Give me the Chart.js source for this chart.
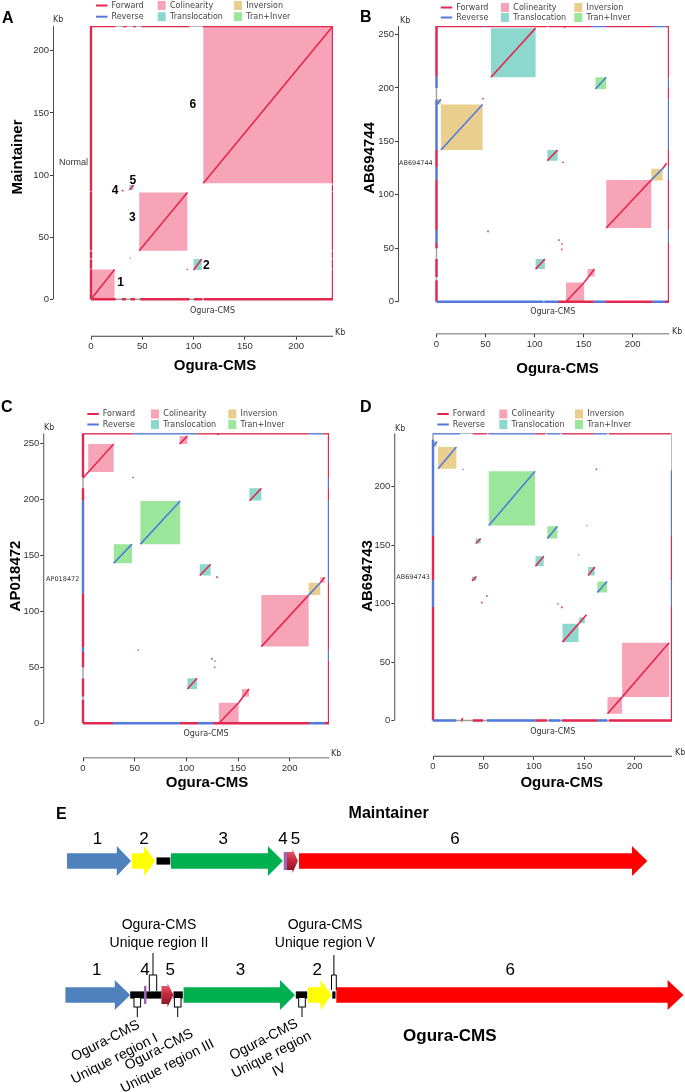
<!DOCTYPE html>
<html>
<head>
<meta charset="utf-8">
<title>Ogura-CMS dot plots</title>
<script src="https://cdn.jsdelivr.net/npm/chart.js@4.4.1/dist/chart.umd.min.js"></script>
<style>
  html, body { margin:0; padding:0; background:#ffffff; }
  #page { position:relative; width:685px; height:1092px; overflow:hidden; background:#fff; }
  #page canvas { position:absolute; left:0; top:0; }
</style>
</head>
<body>
<div id="page">
  <canvas id="chartA" width="685" height="1092"></canvas>
  <canvas id="chartB" width="685" height="1092"></canvas>
  <canvas id="chartC" width="685" height="1092"></canvas>
  <canvas id="chartD" width="685" height="1092"></canvas>
  <canvas id="chartE" width="685" height="1092"></canvas>
</div>
<script>
// ================= DATA =================
const X_TICKS   = [0, 50, 100, 150, 200];
const A_Y_TICKS = [0, 50, 100, 150, 200];
const B_Y_TICKS = [0, 50, 100, 150, 200, 250];
const C_Y_TICKS = [0, 50, 100, 150, 200, 250];
const D_Y_TICKS = [0, 50, 100, 150, 200];

// genome lengths (Kb): [Ogura-CMS, other]
const A_LEN = [236, 220];
const B_LEN = [237, 258];
const C_LEN = [238, 259];
const D_LEN = [237, 245.5];

// blocks: [x0, x1, y0, y1, type]  col=Colinearity tra=Translocation inv=Inversion ti=Tran+Inver
const A_BLOCKS = [
  [0, 23, 0, 24, 'col'], [47, 94, 39, 86, 'col'], [109.5, 236, 93.5, 220, 'col'],
  [100, 108, 23.5, 32.5, 'tra'], [37.5, 41.5, 88, 92, 'tra']
];
const B_BLOCKS = [
  [55.5, 101, 210, 256, 'tra'], [4.5, 47, 142, 184.5, 'inv'], [0.5, 4.5, 184.5, 189.5, 'inv'],
  [162, 173, 199, 210, 'ti'], [113, 123.5, 132, 142, 'tra'], [219, 230.5, 113.5, 124.5, 'inv'],
  [173, 219, 69, 114, 'col'], [132, 150.5, 0, 18, 'col'], [154, 161, 23.5, 30.5, 'col'],
  [101, 110.5, 30.5, 40, 'tra']
];
const C_BLOCKS = [
  [5, 29.7, 224.5, 249.5, 'col'], [93.5, 101, 249.5, 256.5, 'col'], [161, 172.5, 199, 210, 'tra'],
  [55.5, 94, 160, 198.5, 'ti'], [29.7, 47.4, 143, 160, 'ti'], [113, 123.5, 132, 142, 'tra'],
  [218.3, 229.6, 114.5, 125.5, 'inv'], [172.5, 218.3, 68.5, 114.5, 'col'], [229.6, 233.7, 125.5, 130.5, 'col'],
  [101, 110.3, 30.6, 40.2, 'tra'], [131.5, 150.6, 0, 18.4, 'col'], [153.8, 160.6, 23.8, 30.6, 'col']
];
const D_BLOCKS = [
  [0, 4, 234, 238.5, 'inv'], [5, 23.2, 215.2, 233.7, 'inv'], [55.3, 101.2, 166.6, 213, 'ti'],
  [113.4, 123.4, 155.6, 166, 'ti'], [42.4, 47.3, 151.3, 155.6, 'tra'], [101.6, 109.8, 131.8, 140.4, 'tra'],
  [153.8, 160.4, 124, 131.2, 'tra'], [38.7, 43, 119.4, 123.1, 'tra'], [163, 172.6, 109.4, 118.8, 'ti'],
  [128.4, 144.3, 67, 82.6, 'tra'], [145, 150.5, 83.2, 88.3, 'tra'], [187.5, 234.1, 20, 66.4, 'col'],
  [173, 187.5, 5.8, 20, 'col']
];

// alignment hits: [x0, y0, x1, y1, dir]  F=Forward R=Reverse
const A_HITS = [
  [0, 0, 23, 24, 'F'], [47, 39, 94, 86, 'F'], [109.5, 93.5, 236, 220, 'F'], [100, 23.5, 108, 32.5, 'F'],
  [37.5, 88, 41.5, 92, 'F'], [30.5, 87, 31.5, 88, 'F'], [93.6, 23.8, 94.2, 24.5, 'F'], [38, 32.8, 38.5, 33.3, 'F']
];
const B_HITS = [
  [55.5, 210, 101, 256, 'F'], [4.5, 142, 47, 184.5, 'R'], [0.5, 184.5, 4.5, 189.5, 'R'], [47, 189.5, 48, 190.5, 'F'],
  [162, 199, 173, 210, 'R'], [113, 132, 123.5, 142, 'F'], [128.5, 130, 129.5, 131, 'F'],
  [173, 69, 219, 114, 'F'], [219, 114, 230.5, 124.5, 'R'], [230.5, 124.5, 234.5, 129.5, 'F'],
  [132, 0, 150.5, 18, 'F'], [150.5, 18, 161, 30.5, 'F'], [101, 30.5, 110.5, 40, 'F'],
  [52, 65, 53, 66.5, 'R'], [124, 57.5, 124.8, 58.5, 'R'], [127.5, 53.5, 128.3, 54.5, 'F'],
  [127, 49, 127.5, 49.6, 'F'], [130, 256.5, 131, 257.5, 'F']
];
const C_HITS = [
  [0, 219, 29.7, 249.4, 'F'], [93.5, 249.5, 101, 256.5, 'F'], [48, 219, 48.8, 220, 'R'],
  [161.2, 198.8, 172.5, 209.8, 'F'], [55.5, 160, 94, 198.5, 'R'], [29.7, 143, 47.4, 160, 'R'],
  [113, 132, 123.5, 142, 'F'], [129, 130.5, 129.6, 131.4, 'F'], [218.3, 114.5, 229.6, 125.5, 'R'],
  [172.5, 68.5, 218.3, 114.5, 'F'], [229.6, 125.5, 233.7, 130.5, 'F'], [101, 30.6, 110.3, 40.2, 'F'],
  [131.5, 0, 150.6, 18.4, 'F'], [150.6, 18.4, 160.6, 30.6, 'F'], [53, 65, 53.8, 66, 'R'],
  [124, 57.5, 124.8, 58.5, 'R'], [127.4, 55.2, 128, 56, 'F'], [127, 50, 127.4, 50.5, 'F'],
  [130, 257.5, 131, 258.5, 'F']
];
const D_HITS = [
  [0, 234, 4, 238.5, 'R'], [5, 215.2, 23.2, 233.7, 'R'], [29.5, 214.3, 30.2, 215, 'R'],
  [55.3, 166.6, 101.2, 213, 'R'], [161.6, 214.3, 162.4, 215.3, 'F'], [152.6, 166.2, 153.2, 166.8, 'R'],
  [113.4, 155.6, 123.4, 166, 'R'], [42.4, 151.3, 47.3, 155.6, 'F'], [101.6, 131.8, 109.8, 140.4, 'F'],
  [144.3, 141.3, 144.8, 141.8, 'R'], [153.8, 124, 160.4, 131.2, 'F'], [38.7, 119.4, 43, 123.1, 'F'],
  [163, 109.4, 172.6, 118.8, 'R'], [52.6, 106.4, 53.4, 107.3, 'R'], [47.8, 100.7, 48.4, 101.5, 'F'],
  [123.7, 99.3, 124.4, 100.2, 'R'], [127.1, 96.7, 127.8, 97.5, 'F'], [128.4, 67, 152.2, 90.4, 'F'],
  [187.5, 20, 234.1, 66.4, 'F'], [173, 5.8, 187.5, 20, 'F'], [28.5, 0, 29.5, 2, 'F']
];

// coverage marks on the frame: [from, to, dir]
const A_EDGES = {
  top:    [[0, 24, 'F'], [31, 35, 'F'], [41, 44, 'F'], [49, 96, 'F'], [109, 236, 'F']],
  bottom: [[0, 24, 'F'], [30, 34, 'F'], [38.5, 43, 'F'], [48, 96, 'F'], [100.5, 108.5, 'F'], [110, 236, 'F']],
  left:   [[0, 24, 'F'], [24.5, 32, 'F'], [33, 38.5, 'F'], [39.5, 86.5, 'F'], [87, 220, 'F']],
  right:  [[0, 24, 'F'], [24.5, 32, 'F'], [33, 38.5, 'F'], [39.5, 86.5, 'F'], [87, 92, 'F'], [93.5, 220, 'F']]
};
const B_EDGES = {
  top:    [[0, 47.7, 'F'], [47.7, 50.5, 'R'], [50.5, 112.5, 'F'], [114, 157.5, 'F'], [157.5, 172.8, 'R'], [172.8, 219.8, 'F'], [219.8, 233.4, 'R'], [233.4, 237, 'F']],
  bottom: [[0, 109, 'R'], [110, 124, 'R'], [124, 160, 'F'], [160, 172, 'R'], [172, 220, 'F'], [220, 233, 'R'], [233, 237, 'F']],
  left:   [[211, 258, 'F'], [200, 211, 'R'], [142, 189, 'R'], [126, 142, 'F'], [114, 126, 'R'], [67, 114, 'F'], [55, 67, 'R'], [50, 55, 'F'], [23, 40, 'F'], [0, 20, 'F']],
  right:  [[210, 258, 'F'], [200, 210, 'R'], [189, 200, 'F'], [142, 189, 'R'], [127, 142, 'F'], [114, 127, 'R'], [67, 114, 'F'], [55, 67, 'R'], [0, 55, 'F']]
};
const C_EDGES = {
  top:    [[0, 48, 'F'], [48, 110, 'R'], [110, 218, 'F'], [218, 232, 'R'], [232, 238, 'F']],
  bottom: [[0, 29, 'F'], [29, 93.5, 'R'], [93.5, 111, 'F'], [111, 125.7, 'R'], [125.7, 219, 'F'], [219, 233.7, 'R'], [233.7, 238, 'F']],
  left:   [[220, 259, 'F'], [199, 210, 'F'], [116, 199, 'R'], [68, 116, 'F'], [64, 68, 'R'], [50, 64, 'F'], [24, 40, 'F'], [0, 21, 'F']],
  right:  [[219, 259, 'F'], [210, 219, 'R'], [199, 210, 'F'], [126, 199, 'R'], [66, 126, 'F'], [56, 66, 'R'], [0, 56, 'F']]
};
const D_EDGES = {
  top:    [[0, 26.8, 'R'], [39.5, 53.5, 'F'], [55, 101.5, 'R'], [101.5, 111.4, 'F'], [113, 126.4, 'R'], [128, 159.5, 'F'], [159.5, 172.8, 'R'], [174.5, 235.7, 'F']],
  bottom: [[0, 23, 'R'], [28, 29, 'F'], [39.5, 49.5, 'F'], [53.5, 101.5, 'R'], [101.5, 113, 'F'], [114.7, 126.4, 'R'], [128, 163, 'F'], [163, 172.8, 'R'], [174.5, 237, 'F']],
  left:   [[158, 240, 'R'], [120, 158, 'F'], [97, 120, 'R'], [0, 97, 'F']],
  right:  [[158, 214, 'R'], [120, 158, 'F'], [97, 120, 'R'], [0, 97, 'F']]
};

// block numbers in panel A: [label, x(Kb), y(Kb)]
const A_NUMBERS = [['1', 28.8, 13.1], ['2', 112.4, 27.2], ['3', 40.2, 65.4], ['4', 23.4, 87.2], ['5', 40.7, 95.6], ['6', 99.2, 156.6]];

const LEGEND_LINES = [['Forward', 'F'], ['Reverse', 'R']];
const LEGEND_BOXES = [['Colinearity', 'col'], ['Translocation', 'tra'], ['Inversion', 'inv'], ['Tran+Inver', 'ti']];

// Panel E schematic (arbitrary units along the genome map)
// [start, end, headStart (null = plain block), colour key]
const E_MAINT = [
  [7, 71, 56.8, 'blue'], [71.8, 95.3, 84, 'yellow'], [96.5, 110.3, null, 'black'],
  [111, 222.9, 207.9, 'green'], [223.7, 227, null, 'purple'], [227, 237.9, 232.5, 'maroon'],
  [239, 587.4, 572, 'red']
];
const E_OGURA = [
  [5.4, 70.2, 54.8, 'blue'], [70.2, 84, null, 'black'], [84, 86.4, null, 'purple'],
  [86.4, 101.4, null, 'black'], [101.4, 113.5, 107.5, 'maroon'], [113.5, 122.8, null, 'black'],
  [123.6, 235, 220, 'green'], [235.8, 247.2, null, 'black'], [248, 271.5, 260.5, 'yellow'],
  [272.3, 275.5, null, 'black'], [276.3, 623.5, 607.6, 'red']
];
const E_ROW_Y = [61, 195];
const E_MAINT_LABELS = [['1', 37.4], ['2', 84], ['3', 163.3], ['4', 222.9], ['5', 235.4], ['6', 395]];
const E_OGURA_LABELS = [['1', 36.8], ['4', 85], ['5', 110.2], ['3', 180.5], ['2', 257.2], ['6', 450.2]];
const E_UNIQUE_BELOW = [77.3, 117.7, 242];   // unique regions I, III, IV
const E_UNIQUE_ABOVE = [93, 273.9];          // unique regions II, V

// ================= STYLE =================
const FILL = { col: '#F8A4B8', tra: '#8CD8CE', inv: '#EACE8E', ti: '#9BE69A' };
const STROKE = { F: '#E3284F', R: '#5279DD' };
const E_COLORS = { blue: '#4F81BD', yellow: '#FFFF00', black: '#000000', green: '#00B050', purple: '#8E4AA6', red: '#FF0000' };
const SANS = '"Liberation Sans", Arial, sans-serif';
const DJV = '"DejaVu Sans", sans-serif';

function txt(ctx, s, x, y, font, color, align, base, rot) {
  ctx.save();
  ctx.font = font; ctx.fillStyle = color || '#000';
  ctx.textAlign = align || 'center'; ctx.textBaseline = base || 'middle';
  ctx.translate(x, y);
  if (rot) ctx.rotate(rot);
  ctx.fillText(s, 0, 0);
  ctx.restore();
}

function panelPlugin(P) {
  return {
    id: 'panelText' + P.id,
    afterDraw(chart) {
      const ctx = chart.ctx, xs = chart.scales.x, ys = chart.scales.y, T = P.text;
      // panel letter
      txt(ctx, T.letter[0], T.letter[1], T.letter[2], 'bold 16px ' + SANS, '#000', 'left', 'alphabetic');
      // legend
      const L = T.legend;
      LEGEND_LINES.forEach(([lab, d], i) => {
        const yy = i ? L.y2 : L.y1;
        ctx.save(); ctx.strokeStyle = STROKE[d]; ctx.lineWidth = 2;
        ctx.beginPath(); ctx.moveTo(L.x1, yy); ctx.lineTo(L.x1 + 11.5, yy); ctx.stroke(); ctx.restore();
        txt(ctx, lab, L.x1 + 15.5, yy, '8px ' + DJV, '#444', 'left');
      });
      LEGEND_BOXES.forEach(([lab, t], i) => {
        const xx = i < 2 ? L.x2 : L.x3, yy = i % 2 ? L.y2 : L.y1;
        ctx.fillStyle = FILL[t]; ctx.fillRect(xx, yy - 4.5, 8, 9);
        txt(ctx, lab, xx + 12.3, yy, '8px ' + DJV, '#444', 'left');
      });
      // Kb labels
      txt(ctx, 'Kb', T.kbY[0], T.kbY[1], '8px ' + DJV, '#333', 'left');
      txt(ctx, 'Kb', T.kbX[0], T.kbX[1], '8px ' + DJV, '#333', 'left');
      // axis titles
      txt(ctx, T.yTitle[0], T.yTitle[1], T.yTitle[2], 'bold 15px ' + SANS, '#000', 'center', 'middle', -Math.PI / 2);
      txt(ctx, 'Ogura-CMS', T.xTitle[0], T.xTitle[1], 'bold 15px ' + SANS, '#000');
      txt(ctx, 'Ogura-CMS', T.small[0], T.small[1], '8px ' + DJV, '#333');
      txt(ctx, T.yName[0], T.yName[1], T.yName[2], T.yName[3] + 'px ' + (T.yName[4] || DJV), '#333', 'right');
      // numbers
      (P.numbers || []).forEach(([s, xv, yv]) => {
        txt(ctx, s, xs.getPixelForValue(xv), ys.getPixelForValue(yv), 'bold 12px ' + SANS, '#000');
      });
    }
  };
}

function buildPanel(canvasId, P) {
  const L = P.layout, len = P.len;
  const pxX = (L.boxR - L.boxL) / len[0];
  const pxY = (L.boxB - L.boxT) / len[1];
  const xMin = -(L.boxL - L.axisX) / pxX;
  const yMin = -(L.axisY - L.boxB) / pxY;
  const ds = [];
  const base = { pointRadius: 0, pointHoverRadius: 0, tension: 0, spanGaps: true };
  // axis lines
  ds.push(Object.assign({ data: [{ x: xMin, y: 0 }, { x: xMin, y: len[1] }], borderColor: '#3a3a3a', borderWidth: 1.8, fill: false, order: 0 }, base));
  ds.push(Object.assign({ data: [{ x: 0, y: yMin }, { x: len[0], y: yMin }], borderColor: '#3a3a3a', borderWidth: 1.8, fill: false, order: 0 }, base));
  // hits
  P.hits.forEach(([x0, y0, x1, y1, d]) => ds.push(Object.assign({
    data: [{ x: x0, y: y0 }, { x: x1, y: y1 }], borderColor: STROKE[d], borderWidth: 1.6, fill: false, order: 1
  }, base)));
  // edges
  const E = P.edges;
  E.top.forEach(([a, b, d]) => ds.push(Object.assign({ data: [{ x: a, y: len[1] }, { x: b, y: len[1] }], borderColor: STROKE[d], borderWidth: 2.4, fill: false, order: 2 }, base)));
  E.bottom.forEach(([a, b, d]) => ds.push(Object.assign({ data: [{ x: a, y: 0 }, { x: b, y: 0 }], borderColor: STROKE[d], borderWidth: 2.4, fill: false, order: 2 }, base)));
  E.left.forEach(([a, b, d]) => ds.push(Object.assign({ data: [{ x: 0, y: a }, { x: 0, y: b }], borderColor: STROKE[d], borderWidth: 2.4, fill: false, order: 2 }, base)));
  E.right.forEach(([a, b, d]) => ds.push(Object.assign({ data: [{ x: len[0], y: a }, { x: len[0], y: b }], borderColor: STROKE[d], borderWidth: 2.4, fill: false, order: 2 }, base)));
  // grey frame
  ds.push(Object.assign({ data: [{ x: 0, y: 0 }, { x: len[0], y: 0 }, { x: len[0], y: len[1] }, { x: 0, y: len[1] }, { x: 0, y: 0 }], borderColor: '#a0a0a0', borderWidth: 1.4, fill: false, order: 3 }, base));
  // blocks
  P.blocks.forEach(([x0, x1, y0, y1, t]) => ds.push(Object.assign({
    data: [{ x: x0, y: y0 }, { x: x1, y: y0 }, { x: x1, y: y1 }, { x: x0, y: y1 }, { x: x0, y: y0 }],
    backgroundColor: FILL[t], borderColor: 'rgba(255,255,255,0)', borderWidth: 0, fill: 'shape', order: 4
  }, base)));

  const tickCommon = {
    grid: { display: true, drawOnChartArea: false, drawTicks: true, tickLength: 3, color: '#3a3a3a', lineWidth: 1 },
    border: { display: false },
    ticks: { font: { family: SANS, size: 9.5 }, color: '#333', padding: 1, maxRotation: 0, autoSkip: false, callback: v => String(v) }
  };
  return new Chart(document.getElementById(canvasId), {
    type: 'line',
    data: { datasets: ds },
    options: {
      responsive: false, animation: false, events: [],
      layout: { padding: { left: L.axisX - 40, right: 685 - L.boxR, top: L.boxT, bottom: 1092 - L.axisY - 22 } },
      plugins: { legend: { display: false }, tooltip: { enabled: false } },
      scales: {
        x: Object.assign({ type: 'linear', min: xMin, max: len[0],
          afterBuildTicks: s => { s.ticks = X_TICKS.map(v => ({ value: v })); },
          afterFit: s => { s.height = 22; } }, JSON.parse(JSON.stringify(tickCommon)), { ticks: Object.assign({}, tickCommon.ticks) }),
        y: Object.assign({ type: 'linear', min: yMin, max: len[1],
          afterBuildTicks: s => { s.ticks = P.yTicks.map(v => ({ value: v })); },
          afterFit: s => { s.width = 40; } }, JSON.parse(JSON.stringify(tickCommon)), { ticks: Object.assign({}, tickCommon.ticks) })
      }
    },
    plugins: [panelPlugin(P)]
  });
}

buildPanel('chartA', {
  id: 'A', len: A_LEN, yTicks: A_Y_TICKS, blocks: A_BLOCKS, hits: A_HITS, edges: A_EDGES, numbers: A_NUMBERS,
  layout: { axisX: 53, boxL: 91, boxR: 333, boxT: 26, boxB: 299.3, axisY: 336.7 },
  text: { letter: ['A', 2, 23], kbY: [53, 20], kbX: [335, 333], yTitle: ['Maintainer', 18, 157],
    yName: ['Normal', 88, 162.5, 9, SANS], small: [212.5, 311], xTitle: [215, 366],
    legend: { x1: 96, x2: 157.7, x3: 234, y1: 5.5, y2: 16.7 } }
});
buildPanel('chartB', {
  id: 'B', len: B_LEN, yTicks: B_Y_TICKS, blocks: B_BLOCKS, hits: B_HITS, edges: B_EDGES,
  layout: { axisX: 398, boxL: 436.5, boxR: 669, boxT: 26, boxB: 301.7, axisY: 334.3 },
  text: { letter: ['B', 360, 21.7], kbY: [400, 21], kbX: [672, 331.7], yTitle: ['AB694744', 370, 158],
    yName: ['AB694744', 432.7, 163.3, 6.5], small: [552.7, 312.3], xTitle: [557.5, 369],
    legend: { x1: 440.7, x2: 501, x3: 574.3, y1: 7.5, y2: 17.5 } }
});
buildPanel('chartC', {
  id: 'C', len: C_LEN, yTicks: C_Y_TICKS, blocks: C_BLOCKS, hits: C_HITS, edges: C_EDGES,
  layout: { axisX: 43.3, boxL: 83, boxR: 329, boxT: 433.3, boxB: 723.3, axisY: 758.3 },
  text: { letter: ['C', 1, 411.7], kbY: [44, 428.3], kbX: [331, 754.3], yTitle: ['AP018472', 15.5, 576],
    yName: ['AP018472', 79.3, 579, 6.5], small: [206, 734.3], xTitle: [207, 782.5],
    legend: { x1: 87.3, x2: 151, x3: 228.3, y1: 414, y2: 424.5 } }
});
buildPanel('chartD', {
  id: 'D', len: D_LEN, yTicks: D_Y_TICKS, blocks: D_BLOCKS, hits: D_HITS, edges: D_EDGES,
  layout: { axisX: 394.3, boxL: 433, boxR: 672, boxT: 433.3, boxB: 720.5, axisY: 756.7 },
  text: { letter: ['D', 360, 411.7], kbY: [395, 429.3], kbX: [675, 752.7], yTitle: ['AB694743', 367.5, 576],
    yName: ['AB694743', 430, 577.3, 6.5], small: [552.7, 731.7], xTitle: [561.7, 783],
    legend: { x1: 437.3, x2: 499.3, x3: 575, y1: 414, y2: 424.5 } }
});

// ================= PANEL E =================
const eDiagram = {
  id: 'eDiagram',
  afterDraw(chart) {
    const ctx = chart.ctx, xs = chart.scales.x, ys = chart.scales.y;
    const X = v => xs.getPixelForValue(v), Y = v => ys.getPixelForValue(v);
    function drawRow(blocks, yv) {
      const yc = Y(yv);
      blocks.forEach(([a, b, h, c]) => {
        const x0 = X(a), x1 = X(b);
        ctx.save();
        if (c === 'maroon') {
          const g = ctx.createLinearGradient(x0, yc - 12, x0, yc + 12);
          g.addColorStop(0, '#E86A7C'); g.addColorStop(0.45, '#C9283F'); g.addColorStop(1, '#7E1424');
          ctx.fillStyle = g;
          const xh = X(h);
          ctx.beginPath();
          ctx.moveTo(x0, yc - 9); ctx.lineTo(xh, yc - 9); ctx.lineTo(xh, yc - 12); ctx.lineTo(x1, yc);
          ctx.lineTo(xh, yc + 12); ctx.lineTo(xh, yc + 9); ctx.lineTo(x0, yc + 9); ctx.closePath(); ctx.fill();
        } else if (h === null) {
          const hh = c === 'purple' ? 9 : 3.6;
          ctx.fillStyle = E_COLORS[c];
          if (c === 'purple') ctx.globalAlpha = 0.85;
          ctx.fillRect(x0, yc - hh, x1 - x0, hh * 2);
        } else {
          const xh = X(h);
          ctx.fillStyle = E_COLORS[c];
          ctx.beginPath();
          ctx.moveTo(x0, yc - 7.8); ctx.lineTo(xh, yc - 7.8); ctx.lineTo(xh, yc - 15); ctx.lineTo(x1, yc);
          ctx.lineTo(xh, yc + 15); ctx.lineTo(xh, yc + 7.8); ctx.lineTo(x0, yc + 7.8); ctx.closePath(); ctx.fill();
        }
        ctx.restore();
      });
    }
    drawRow(E_MAINT, E_ROW_Y[0]);
    drawRow(E_OGURA, E_ROW_Y[1]);
    const NUMF = '17px ' + SANS;
    E_MAINT_LABELS.forEach(([s, v]) => txt(ctx, s, X(v), Y(E_ROW_Y[0]) - 21.5, NUMF, '#000'));
    E_OGURA_LABELS.forEach(([s, v]) => txt(ctx, s, X(v), Y(E_ROW_Y[1]) - 25, NUMF, '#000'));

    // unique region callouts
    const yo = Y(E_ROW_Y[1]);
    ctx.save();
    ctx.strokeStyle = '#000'; ctx.lineWidth = 1; ctx.fillStyle = '#fff';
    E_UNIQUE_BELOW.forEach(v => {
      const xc = X(v);
      ctx.fillRect(xc - 3.3, yo + 2.5, 6.6, 9.5);
      ctx.strokeRect(xc - 3.3, yo + 2.5, 6.6, 9.5);
      ctx.beginPath(); ctx.moveTo(xc, yo + 12); ctx.lineTo(xc, yo + 22); ctx.stroke();
    });
    E_UNIQUE_ABOVE.forEach((v, i) => {
      const xc = X(v), w = i === 0 ? 3.7 : 2.4, yb = i === 0 ? yo - 4 : yo - 5;
      ctx.fillRect(xc - w, yo - 20, w * 2, yb - (yo - 20));
      ctx.beginPath();
      ctx.moveTo(xc - w, yb); ctx.lineTo(xc - w, yo - 20); ctx.lineTo(xc + w, yo - 20); ctx.lineTo(xc + w, yb);
      ctx.moveTo(xc, yo - 20); ctx.lineTo(xc, yo - (i === 0 ? 42 : 40));
      ctx.stroke();
    });
    ctx.restore();

    // texts
    const LF = '14px ' + SANS;
    txt(ctx, 'E', 56, 819, 'bold 16px ' + SANS, '#000', 'left', 'alphabetic');
    txt(ctx, 'Maintainer', 388.6, 814, 'bold 16px ' + SANS, '#000');
    txt(ctx, 'Ogura-CMS', 449.8, 1036, 'bold 17px ' + SANS, '#000');
    txt(ctx, 'Ogura-CMS', 159, 925, LF, '#000');
    txt(ctx, 'Unique region II', 159, 942.7, LF, '#000');
    txt(ctx, 'Ogura-CMS', 325, 925, LF, '#000');
    txt(ctx, 'Unique region V', 325, 942.7, LF, '#000');
    const ang = -27 * Math.PI / 180;
    function rotBlock(lines, cx, cy, gap) {
      const n = lines.length;
      lines.forEach((s, i) => {
        const d = (i - (n - 1) / 2) * gap;
        const px = cx + d * Math.sin(-ang), py = cy + d * Math.cos(ang);
        txt(ctx, s, px, py, LF, '#000', 'center', 'middle', ang);
      });
    }
    rotBlock(['Ogura-CMS', 'Unique region I'], 110, 1050, 20);
    rotBlock(['Ogura-CMS', 'Unique region III'], 163.3, 1058, 18.5);
    rotBlock(['Ogura-CMS', 'Unique region', 'IV'], 271.5, 1055, 17);
  }
};

new Chart(document.getElementById('chartE'), {
  type: 'line',
  data: { datasets: [] },
  options: {
    responsive: false, animation: false, events: [],
    layout: { padding: { left: 60, right: 0, top: 800, bottom: 0 } },
    plugins: { legend: { display: false }, tooltip: { enabled: false } },
    scales: {
      x: { type: 'linear', display: false, min: 0, max: 625 },
      y: { type: 'linear', display: false, min: 0, max: 292, reverse: true }
    }
  },
  plugins: [eDiagram]
});
</script>
</body>
</html>
